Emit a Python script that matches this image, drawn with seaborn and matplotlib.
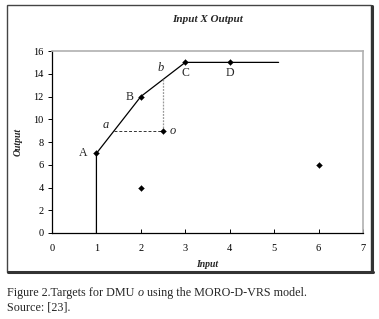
import matplotlib
matplotlib.use("Agg")
import matplotlib.pyplot as plt
import seaborn as sns
import pandas as pd
from matplotlib.patches import Rectangle
from matplotlib.lines import Line2D

# Datos
frontier_x = [1, 1, 2, 3, 5.1]
frontier_y = [0, 7, 12, 15, 15]

dmu_x = [1, 2, 3, 4, 2.5, 2, 6]
dmu_y = [7, 12, 15, 15, 9, 4, 6]

label_names = ["A", "B", "C", "D"]
label_x = [1, 2, 3, 4]
label_y = [7, 12, 15, 15]

target_a = (1.4, 9)
target_b = (2.5, 13.5)
dmu_o = (2.5, 9)

x_ticks = [0, 1, 2, 3, 4, 5, 6, 7]
y_ticks = [0, 2, 4, 6, 8, 10, 12, 14, 16]

sns.set_theme(style="white")
plt.rcParams['font.family'] = ['Liberation Serif', 'DejaVu Serif']

fig = plt.figure(figsize=(3.79, 3.19), dpi=100)
ax = fig.add_axes([0.1372, 0.2696, 0.8206, 0.5705])

front_df = pd.DataFrame({"x": frontier_x, "y": frontier_y})
sns.lineplot(data=front_df, x="x", y="y", sort=False, estimator=None, color="black", lw=0.9, ax=ax)

# Lineas de proyeccion
ax.plot([target_a[0], dmu_o[0]], [target_a[1], dmu_o[1]], ls=(0, (3, 2)), color="#333333", lw=0.7)
ax.plot([dmu_o[0], target_b[0]], [dmu_o[1], target_b[1]], ls=(0, (1.5, 1)), color="#999999", lw=0.9)

pts_df = pd.DataFrame({"x": dmu_x, "y": dmu_y})
sns.scatterplot(data=pts_df, x="x", y="y", color="black", s=9, marker="D", edgecolor="black", ax=ax, zorder=5)

offsets = {"A": (-0.3, 0), "B": (-0.25, 0), "C": (0, -0.95), "D": (0, -0.95)}
for n, xx, yy in zip(label_names, label_x, label_y):
    dx, dy = offsets[n]
    ax.text(xx + dx, yy + dy, n, fontsize=8.5, ha="center", va="center")
ax.text(target_a[0] - 0.2, target_a[1] + 0.5, "a", fontsize=9, style="italic", ha="center", va="center")
ax.text(target_b[0] - 0.05, target_b[1] + 1.0, "b", fontsize=9, style="italic", ha="center", va="center")
ax.text(dmu_o[0] + 0.22, dmu_o[1], "o", fontsize=9, style="italic", ha="center", va="center")

ax.set_xlim(0, 7)
ax.set_ylim(0, 16)
ax.set_xticks(x_ticks)
ax.set_yticks(y_ticks)
ax.tick_params(axis="x", direction="in", length=3, width=0.7, labelsize=7.5, pad=8, colors="black", bottom=True)
ax.tick_params(axis="y", direction="out", length=3, width=0.7, labelsize=7.5, pad=3, colors="black", left=True)
ax.set_xlabel("Input", fontsize=7, style="italic", fontweight="bold", labelpad=5)
ax.set_ylabel("Output", fontsize=7, style="italic", fontweight="bold", labelpad=8)
ax.set_title("Input X Output", fontsize=8, style="italic", fontweight="bold", pad=21)

for side in ["top", "right"]:
    ax.spines[side].set_color("#b0b0b0")
    ax.spines[side].set_linewidth(1.2)
for side in ["left", "bottom"]:
    ax.spines[side].set_color("black")
    ax.spines[side].set_linewidth(0.9)

# Marco exterior
W, H = 379, 319
fig.patches.append(Rectangle((7 / W, 1 - 272 / H), 364 / W, 267 / H, transform=fig.transFigure,
                             fill=False, edgecolor="#444444", lw=1.0))
fig.lines.append(Line2D([372 / W, 372 / W], [1 - 272 / H, 1 - 6 / H], transform=fig.transFigure, color="#333333", lw=2.2))
fig.lines.append(Line2D([8 / W, 373 / W], [1 - 272 / H, 1 - 272 / H], transform=fig.transFigure, color="#333333", lw=2.2))

fs = 8.7
t1 = fig.text(7 / W, 1 - 293 / H, "Figure 2.Targets for DMU ", fontsize=fs, va="center", ha="left")
fig.canvas.draw()
r = t1.get_window_extent()
t2 = fig.text(r.x1 / W, 1 - 293 / H, "o", fontsize=fs, style="italic", va="center", ha="left")
fig.canvas.draw()
r2 = t2.get_window_extent()
fig.text(r2.x1 / W, 1 - 293 / H, " using the MORO-D-VRS model.", fontsize=fs, va="center", ha="left")
fig.text(7 / W, 1 - 308 / H, "Source: [23].", fontsize=fs, va="center", ha="left")

fig.savefig("out.png", dpi=100)
